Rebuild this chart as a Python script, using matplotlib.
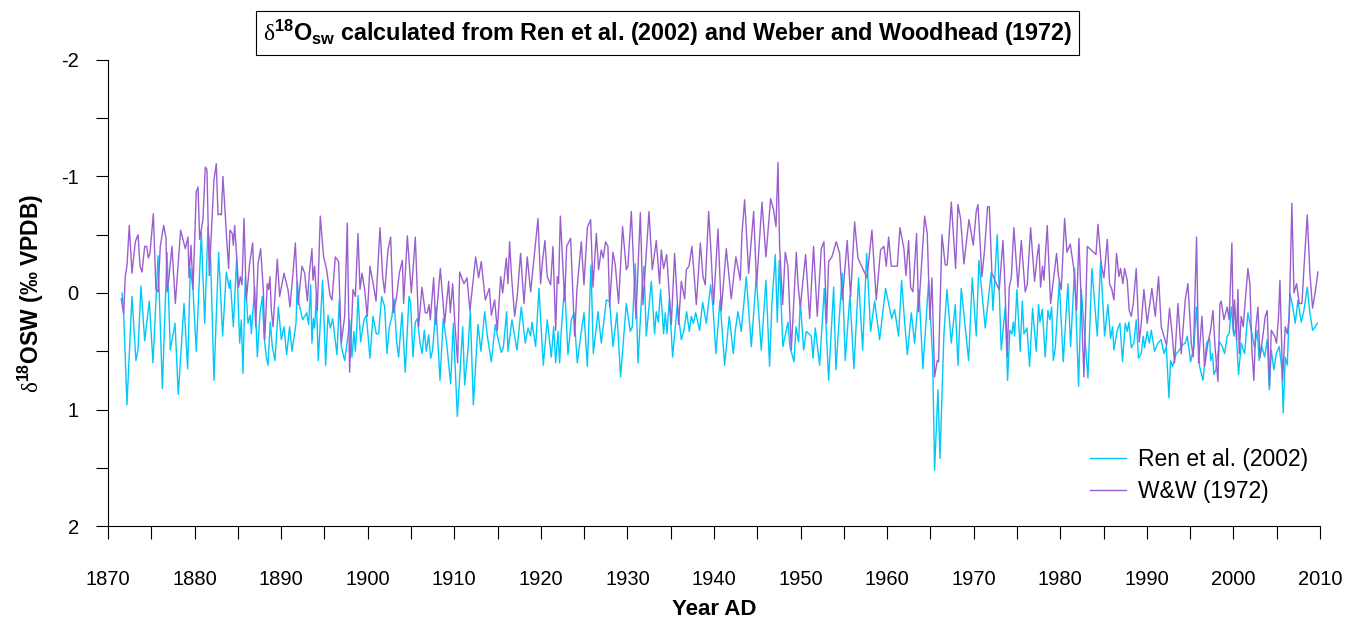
import matplotlib
matplotlib.use("Agg")
import matplotlib.pyplot as plt
from matplotlib.ticker import MultipleLocator

plt.rcParams['font.family'] = ['Liberation Sans', 'DejaVu Sans']
plt.rcParams['mathtext.fontset'] = 'custom'
plt.rcParams['mathtext.rm'] = 'Liberation Serif'
plt.rcParams['mathtext.bf'] = 'Liberation Sans:bold'
plt.rcParams['mathtext.sf'] = 'Liberation Sans'
plt.rcParams['axes.unicode_minus'] = False

# d18O seawater, Ren et al. (2002) calibration
ren_year = [
    1871.62, 1871.81, 1872.19, 1872.77, 1873.23, 1873.47, 1873.81, 1874.24, 1874.77, 1875.20, 1875.78, 1876.28,
    1876.82, 1877.20, 1877.74, 1878.12, 1878.78, 1879.20, 1879.51, 1879.82, 1880.20, 1880.78, 1881.17, 1881.55,
    1881.86, 1882.24, 1882.78, 1883.24, 1883.67, 1884.01, 1884.13, 1884.48, 1884.86, 1885.21, 1885.40, 1885.59,
    1885.86, 1886.17, 1886.44, 1886.56, 1886.71, 1886.94, 1887.25, 1887.56, 1887.83, 1888.02, 1888.29, 1888.48,
    1888.75, 1888.98, 1889.29, 1889.68, 1890.02, 1890.33, 1890.64, 1890.98, 1891.25, 1891.72, 1891.87, 1892.06,
    1892.49, 1892.95, 1893.18,
    1893.41, 1893.56, 1893.72, 1893.87, 1894.06, 1894.29, 1894.79, 1895.14, 1895.41, 1895.68, 1895.95, 1896.45,
    1896.72, 1896.95, 1897.34, 1897.72, 1897.91, 1898.18, 1898.41, 1898.57, 1898.72, 1898.88, 1899.18, 1899.57,
    1899.84, 1900.26, 1900.61, 1900.99, 1901.26, 1901.61, 1901.96, 1902.23, 1902.50, 1902.80, 1903.04, 1903.34,
    1903.57, 1903.96, 1904.34, 1904.77,
    1904.96, 1905.23, 1905.50, 1905.73, 1906.04, 1906.27, 1906.54, 1906.77, 1907.04, 1907.27, 1907.50, 1907.88,
    1908.35, 1908.73, 1909.12, 1909.58, 1909.89, 1910.35, 1910.97, 1911.20, 1911.58, 1911.85, 1912.20, 1912.74,
    1913.08, 1913.51, 1913.82, 1914.28, 1914.74, 1915.05, 1915.43, 1915.66, 1916.05,
    1916.20, 1916.66, 1917.24, 1917.74, 1918.20, 1918.51, 1918.82, 1918.97, 1919.40, 1919.78, 1920.28, 1920.74,
    1921.21, 1921.48, 1921.71, 1921.98, 1922.17, 1922.36, 1922.75, 1923.13, 1923.52, 1923.82, 1924.21, 1924.60,
    1924.98, 1925.37, 1925.79, 1926.06, 1926.60, 1926.98, 1927.56,
    1927.94, 1928.33, 1928.79, 1929.21, 1929.87, 1930.33, 1930.56, 1930.91, 1931.22, 1931.72, 1931.91, 1932.18,
    1932.76, 1933.14, 1933.33, 1933.57, 1933.83, 1934.18, 1934.37, 1934.57, 1934.84, 1935.22, 1935.76, 1936.22,
    1936.53, 1936.84, 1937.15, 1937.38, 1937.61, 1937.88, 1938.34, 1938.69, 1939.11,
    1939.61, 1939.88, 1940.22, 1940.69, 1941.23, 1941.76, 1942.23, 1942.46, 1942.77, 1943.15, 1943.73, 1944.31,
    1944.88, 1945.46, 1946.00, 1946.42, 1946.69, 1947.08, 1947.31, 1947.54, 1947.96, 1948.54, 1948.77, 1949.24,
    1949.47, 1949.77, 1949.97, 1950.35, 1950.66,
    1951.24, 1951.43, 1951.70, 1952.20, 1952.74, 1953.24, 1953.82, 1954.08, 1954.43, 1954.82, 1955.16, 1955.70,
    1956.16, 1956.70, 1957.17, 1957.63, 1958.09, 1958.55, 1959.13, 1959.82, 1960.52, 1960.86, 1961.32, 1961.67,
    1962.02, 1962.33,
    1962.79, 1963.17, 1963.67, 1964.13, 1964.79, 1965.25, 1965.48, 1965.87, 1966.10, 1966.56, 1966.91, 1967.41,
    1967.87, 1968.18, 1968.56, 1969.41, 1969.83, 1970.29, 1970.60, 1971.33, 1972.03, 1972.22, 1972.72, 1973.18,
    1973.64, 1973.91,
    1974.18, 1974.41, 1974.57, 1974.72, 1974.99, 1975.37, 1975.61, 1975.80, 1976.15, 1976.45, 1976.80, 1977.22,
    1977.49, 1977.65, 1977.92, 1978.26, 1978.57, 1978.80, 1979.00, 1979.19, 1979.42, 1979.88, 1980.34, 1980.88,
    1981.19, 1981.65, 1982.11, 1982.42, 1982.81, 1983.19, 1983.65, 1984.27, 1984.66, 1985.12, 1985.50,
    1985.81, 1986.04, 1986.19, 1986.58, 1986.89, 1987.19, 1987.50, 1987.73, 1987.93, 1988.20, 1988.50, 1988.77,
    1989.04, 1989.35, 1989.58, 1989.74, 1990.04, 1990.28, 1990.51, 1990.89, 1991.28, 1991.66, 1991.97, 1992.24,
    1992.55, 1992.74, 1992.97, 1993.39, 1993.66, 1994.05, 1994.43, 1994.67, 1995.05, 1995.44, 1995.71, 1996.09,
    1996.48, 1996.90, 1997.25,
    1997.36, 1997.59, 1997.74, 1997.97, 1998.36, 1998.67, 1998.98, 1999.28, 1999.51, 1999.75, 2000.05, 2000.28,
    2000.59, 2000.90, 2001.29, 2001.67, 2002.06, 2002.44, 2002.75, 2002.98, 2003.29, 2003.60, 2003.90, 2004.14,
    2004.37, 2004.67, 2004.94, 2005.29, 2005.60, 2005.75, 2005.98, 2006.22, 2006.52, 2006.87, 2007.14, 2007.45,
    2007.83, 2008.14, 2008.53, 2008.80, 2009.14, 2009.37, 2009.68,
]
ren_d18o = [
    0.00, 0.17, 0.96, 0.03, 0.58, 0.49, -0.06, 0.41, 0.07, 0.60, -0.32, 0.82,
    -0.35, 0.49, 0.26, 0.87, 0.09, 0.65, -0.21, -0.03, 0.50, -0.52, 0.26, -0.57,
    -0.28, 0.75, -0.35, 0.37, -0.18, -0.04, -0.11, 0.29, -0.30, 0.43, 0.23, 0.69,
    -0.13, 0.26, 0.19, 0.35, 0.19, -0.05, 0.55, 0.17, 0.03, 0.37, 0.55, 0.62,
    0.25, 0.46, 0.58, 0.12, 0.40, 0.29, 0.53, 0.29, 0.50, 0.26, -0.10, 0.09,
    0.23, 0.17, 0.27,
    -0.07, 0.43, 0.22, 0.30, 0.03, 0.58, -0.11, 0.62, 0.19, 0.30, 0.22, 0.53,
    0.06, 0.46, 0.58, 0.37, 0.23, 0.55, 0.33, 0.50, 0.33, 0.02, 0.42, 0.23,
    0.19, 0.56, 0.20, 0.35, 0.35, 0.03, 0.12, 0.52, 0.29, 0.20, 0.05, 0.42,
    0.55, 0.17, 0.68, 0.03,
    0.09, 0.55, 0.25, 0.22, 0.42, 0.52, 0.32, 0.50, 0.36, 0.56, 0.49, 0.12,
    0.75, 0.22, 0.43, 0.78, 0.26, 1.06, 0.29, 0.79, 0.49, 0.15, 0.96, 0.27,
    0.50, 0.16, 0.37, 0.59, 0.27, 0.39, 0.51, 0.47, 0.16,
    0.50, 0.23, 0.49, 0.12, 0.43, 0.30, 0.37, 0.25, 0.46, -0.04, 0.62, 0.23,
    0.55, 0.29, 0.60, 0.33, 0.60, 0.32, -0.07, 0.53, 0.23, 0.17, 0.60, 0.37,
    0.17, 0.63, -0.24, 0.52, 0.16, 0.43, 0.06,
    0.07, 0.46, 0.17, 0.72, 0.09, 0.33, 0.29, -0.25, 0.60, -0.08, -0.23, 0.37,
    -0.10, 0.35, 0.16, 0.25, -0.03, 0.35, 0.17, 0.35, 0.05, 0.55, 0.10, 0.40,
    0.32, 0.16, 0.33, 0.20, 0.26, 0.17, 0.32, 0.08, 0.26,
    -0.07, 0.12, 0.52, 0.06, 0.62, 0.20, 0.52, 0.32, 0.16, 0.33, -0.14, 0.46,
    -0.14, 0.49, -0.11, 0.63, 0.09, -0.33, 0.25, -0.28, 0.46, 0.25, 0.46, 0.59,
    0.29, 0.42, 0.07, 0.49, 0.33,
    0.37, 0.56, 0.30, 0.62, -0.04, 0.75, -0.05, 0.66, 0.26, -0.17, 0.58, 0.02,
    0.65, -0.13, 0.49, -0.34, 0.33, 0.07, 0.40, -0.04, 0.22, 0.14, 0.37, -0.11,
    0.25, 0.53,
    0.17, 0.43, -0.03, 0.65, -0.10, 0.55, 1.52, 0.83, 1.42, 0.35, -0.03, 0.43,
    0.10, 0.62, -0.04, 0.58, -0.13, 0.37, -0.28, 0.30, -0.18, 0.15, -0.50, 0.49,
    0.12, 0.75,
    0.32, 0.35, 0.25, 0.37, -0.03, 0.50, 0.07, 0.35, 0.30, 0.63, 0.13, 0.50,
    0.10, 0.25, 0.14, 0.55, 0.15, 0.23, 0.12, 0.58, 0.47, -0.10, 0.59, -0.08,
    0.46, -0.21, 0.80, -0.03, 0.35, 0.73, -0.21, 0.37, -0.27, 0.37, 0.10,
    0.39, 0.29, 0.49, 0.32, 0.26, 0.59, 0.26, 0.33, 0.25, 0.47, 0.43, 0.23,
    0.56, 0.52, 0.37, 0.47, 0.33, 0.43, 0.32, 0.50, 0.43, 0.40, 0.52, 0.46,
    0.90, 0.58, 0.63, 0.52, 0.50, 0.45, 0.43, 0.37, 0.59, 0.46, 0.12, 0.63,
    0.75, 0.43, 0.39,
    0.58, 0.52, 0.70, 0.66, 0.42, 0.45, 0.52, 0.37, 0.35, 0.12, 0.37, 0.29,
    0.70, 0.43, 0.52, 0.17, 0.32, 0.47, 0.32, 0.58, 0.46, 0.55, 0.40, 0.83,
    0.49, 0.66, 0.52, 0.46, 0.66, 1.03, 0.55, 0.62, 0.00, 0.13, 0.26, 0.06,
    0.25, 0.15, -0.05, 0.15, 0.32, 0.30, 0.26,
]

# d18O seawater, Weber and Woodhead (1972) calibration
ww_year = [
    1871.54, 1871.81, 1872.00, 1872.19, 1872.46, 1872.77, 1873.16, 1873.47, 1873.70, 1873.93, 1874.24, 1874.47,
    1874.66, 1874.85, 1875.24, 1875.54, 1875.78, 1876.04, 1876.43, 1876.70, 1876.82, 1877.05, 1877.39, 1877.78,
    1878.39, 1878.93, 1879.24, 1879.36, 1879.59, 1879.82, 1880.20, 1880.40, 1880.59, 1880.97, 1881.24, 1881.43,
    1881.70,
    1882.24, 1882.51, 1882.71, 1882.94, 1883.09, 1883.28, 1883.55, 1883.74, 1883.94, 1884.09, 1884.36, 1884.48,
    1884.63, 1884.90, 1885.09, 1885.29, 1885.48, 1885.71, 1885.98, 1886.36, 1886.71, 1887.06, 1887.33, 1887.63,
    1887.94, 1888.10, 1888.40, 1888.56, 1888.71, 1888.87, 1889.06, 1889.56, 1889.83, 1890.33, 1890.79, 1891.02,
    1891.37, 1891.64, 1891.95, 1892.41, 1892.72, 1893.03, 1893.26,
    1893.56, 1893.68, 1893.87, 1894.18, 1894.52, 1894.91, 1895.26, 1895.64, 1895.87, 1896.26, 1896.64, 1896.95,
    1897.34, 1897.64, 1897.91, 1898.30, 1898.57, 1898.88, 1899.11, 1899.34, 1899.65, 1899.95, 1900.26, 1900.65,
    1900.96, 1901.42, 1901.73, 1901.96, 1902.34, 1902.65, 1902.96, 1903.34, 1903.65, 1904.00, 1904.15, 1904.58,
    1905.04, 1905.50, 1905.88, 1906.27, 1906.65, 1906.88, 1907.08, 1907.23, 1907.62, 1907.85, 1908.39, 1908.89,
    1909.35, 1909.54, 1909.81, 1910.04, 1910.39, 1910.62, 1911.12, 1911.47, 1911.81, 1912.47, 1912.81, 1913.12,
    1913.58, 1914.05, 1914.28, 1914.66, 1914.97, 1915.36, 1915.59, 1916.01, 1916.20,
    1916.39, 1916.59, 1916.97, 1917.28, 1917.66, 1918.05, 1918.43, 1918.82, 1919.05, 1919.67, 1919.97, 1920.20,
    1920.47, 1920.74, 1921.13, 1921.40, 1921.71, 1921.90, 1922.05, 1922.25, 1922.75, 1922.98, 1923.44, 1923.90,
    1924.17, 1924.67, 1924.98, 1925.37, 1925.75, 1926.02, 1926.41, 1926.67, 1926.98, 1927.21, 1927.48, 1927.75,
    1927.94, 1928.33, 1928.60, 1928.98, 1929.44, 1929.87, 1930.06, 1930.45, 1930.98, 1931.49, 1931.79, 1932.49,
    1932.87, 1933.33, 1933.72, 1933.91, 1934.18, 1934.53, 1935.07, 1935.45, 1935.91, 1936.22, 1936.61, 1936.80,
    1937.11, 1937.45, 1937.65, 1937.96, 1938.42, 1938.73, 1938.99, 1939.38,
    1939.61, 1939.95, 1940.46, 1940.84, 1941.42, 1941.99, 1942.53, 1943.04, 1943.23, 1943.54, 1944.00, 1944.58,
    1944.92, 1945.54, 1946.00, 1946.54, 1946.89, 1947.16, 1947.39, 1947.58, 1947.93, 1948.23, 1948.54, 1948.93,
    1949.51, 1949.70, 1949.97, 1950.58, 1951.05,
    1951.50, 1951.93, 1952.39, 1952.70, 1953.01, 1953.24, 1953.62, 1954.12, 1954.51, 1954.82, 1955.39, 1955.78,
    1956.24, 1956.63, 1957.67, 1958.24, 1958.74, 1959.24, 1959.63, 1959.90, 1960.17, 1960.48, 1961.17, 1961.48,
    1961.94, 1962.17, 1962.48,
    1962.71, 1962.98, 1963.40, 1963.63, 1964.33, 1964.63, 1964.94, 1965.17, 1965.48, 1965.79, 1965.94, 1966.33,
    1966.71, 1966.94, 1967.41, 1967.91, 1968.18, 1968.48, 1968.87, 1969.45, 1969.95, 1970.29, 1970.49, 1970.95,
    1971.26, 1971.60, 1971.80, 1972.10, 1972.61, 1972.95, 1973.38, 1973.57, 1973.88,
    1974.10, 1974.34, 1974.64, 1975.11, 1975.49, 1975.72, 1975.95, 1976.18, 1976.57, 1977.03, 1977.34, 1977.53,
    1977.72, 1977.95, 1978.11, 1978.49, 1978.88, 1979.57, 1979.80, 1980.11, 1980.50, 1980.77, 1981.15, 1981.58,
    1981.88, 1982.15, 1982.73, 1983.12, 1984.12, 1984.35, 1984.73, 1985.04, 1985.43,
    1985.69, 1985.96, 1986.19, 1986.50, 1986.77, 1986.96, 1987.23, 1987.43, 1987.73, 1987.96, 1988.20, 1988.43,
    1988.77, 1989.12, 1989.35, 1989.66, 1990.04, 1990.58, 1990.97, 1991.35, 1991.66, 1991.97, 1992.28, 1992.62,
    1992.89, 1993.20, 1993.59, 1993.97, 1994.43, 1994.74, 1995.13, 1995.36, 1995.74, 1995.97, 1996.36, 1996.67,
    1997.05,
    1997.36, 1997.63, 1997.90, 1998.21, 1998.44, 1998.59, 1998.90, 1999.28, 1999.51, 1999.82, 1999.98, 2000.13,
    2000.36, 2000.52, 2000.67, 2000.90, 2001.13, 2001.36, 2001.67, 2001.90, 2002.13, 2002.36, 2002.56, 2002.83,
    2003.06, 2003.40, 2003.67, 2003.90, 2004.17, 2004.37, 2004.75, 2004.98, 2005.21, 2005.37, 2005.68, 2005.98,
    2006.22, 2006.45, 2006.75, 2006.99, 2007.29, 2007.60, 2007.91, 2008.22, 2008.53, 2008.83, 2009.14, 2009.45,
    2009.76,
]
ww_d18o = [
    0.05, 0.18, -0.15, -0.23, -0.58, -0.17, -0.44, -0.50, -0.23, -0.18, -0.40, -0.40,
    -0.30, -0.34, -0.68, -0.03, -0.01, -0.40, -0.58, -0.47, -0.01, -0.14, -0.40, 0.09,
    -0.54, -0.38, -0.48, -0.13, -0.41, -0.03, -0.87, -0.91, -0.46, -0.63, -1.08, -1.06,
    -0.15,
    -0.97, -1.11, -0.67, -0.68, -0.67, -1.00, -0.66, -0.43, -0.21, -0.54, -0.51, -0.41,
    -0.58, -0.27, -0.05, -0.14, -0.07, -0.64, 0.06, -0.25, -0.43, 0.29, -0.25, -0.38,
    -0.03, 0.40, -0.08, -0.03, -0.14, 0.15, 0.29, -0.29, 0.03, -0.17, -0.03, 0.12,
    -0.17, -0.43, 0.10, -0.23, -0.17, 0.07, -0.17,
    -0.38, -0.11, -0.23, 0.15, -0.66, -0.31, -0.20, 0.02, 0.06, -0.31, -0.27, 0.43,
    0.20, -0.60, 0.68, -0.03, 0.03, -0.51, -0.03, -0.17, -0.03, 0.20, -0.23, -0.07,
    0.07, -0.56, -0.14, 0.00, -0.37, -0.48, 0.17, 0.03, -0.17, -0.28, 0.09, -0.49,
    0.00, -0.48, 0.29, -0.05, 0.17, 0.17, 0.10, 0.23, -0.13, 0.27, -0.21, 0.26,
    -0.10, 0.17, -0.08, 0.23, 0.60, -0.18, -0.08, -0.13, 0.15, -0.31, -0.13, -0.27,
    0.06, -0.04, 0.19, 0.06, 0.32, -0.14, 0.00, -0.30, -0.08,
    -0.44, -0.17, 0.20, 0.02, -0.34, 0.09, -0.31, -0.01, -0.18, -0.64, -0.08, -0.28,
    -0.45, -0.14, -0.07, -0.40, 0.32, -0.14, -0.08, -0.66, 0.07, -0.40, -0.47, 0.37,
    -0.03, -0.44, -0.07, -0.56, -0.63, -0.05, -0.51, -0.20, -0.37, -0.30, -0.44, -0.40,
    0.12, -0.35, -0.24, 0.09, -0.57, -0.20, -0.23, -0.70, 0.22, -0.69, 0.10, -0.70,
    -0.20, -0.45, -0.08, -0.37, -0.21, -0.33, 0.27, -0.34, 0.27, -0.10, 0.05, -0.20,
    -0.23, -0.40, -0.21, 0.10, -0.43, -0.14, -0.07, -0.70,
    -0.41, 0.10, -0.55, 0.15, -0.38, 0.05, -0.31, -0.11, -0.51, -0.80, -0.17, -0.70,
    -0.07, -0.78, -0.31, -0.81, -0.71, -0.57, -1.12, -0.40, 0.10, -0.35, -0.23, 0.49,
    -0.35, -0.08, 0.12, -0.33, 0.22,
    -0.40, 0.20, -0.38, -0.44, 0.26, -0.27, -0.31, -0.44, -0.34, 0.06, -0.45, 0.03,
    -0.61, -0.30, -0.13, -0.54, 0.06, -0.37, -0.40, -0.23, -0.48, -0.23, -0.23, -0.56,
    -0.38, -0.15, -0.45,
    -0.05, -0.01, -0.51, 0.16, -0.66, -0.51, 0.23, -0.13, 0.72, 0.58, 0.59, -0.50,
    -0.24, -0.24, -0.78, -0.21, -0.76, -0.64, -0.25, -0.63, -0.41, -0.70, -0.76, -0.14,
    -0.38, -0.74, -0.74, -0.17, -0.08, -0.03, -0.45, -0.13, 0.55,
    -0.05, -0.13, -0.56, -0.05, -0.45, -0.23, -0.01, -0.07, -0.56, -0.10, -0.32, -0.42,
    -0.05, -0.23, -0.11, -0.58, 0.09, -0.34, -0.14, -0.03, -0.64, -0.35, -0.42, -0.20,
    0.15, -0.47, 0.72, -0.40, -0.33, -0.59, -0.25, -0.13, -0.46,
    -0.08, -0.03, 0.06, -0.34, -0.14, -0.21, -0.08, -0.21, -0.11, 0.15, 0.20, 0.09,
    -0.21, 0.42, 0.26, -0.03, 0.26, -0.04, 0.20, -0.14, 0.29, 0.37, 0.45, 0.13,
    0.33, 0.60, 0.09, 0.52, 0.06, -0.08, 0.43, 0.55, -0.48, 0.60, 0.20, 0.63,
    0.43,
    0.32, 0.15, 0.49, 0.76, 0.09, 0.07, 0.23, 0.12, 0.23, -0.43, 0.33, 0.06,
    0.40, -0.03, 0.52, 0.20, 0.29, 0.07, -0.21, -0.08, 0.49, 0.75, 0.32, 0.12,
    0.55, 0.37, 0.20, 0.15, 0.80, 0.32, 0.37, 0.43, 0.20, -0.11, 0.75, 0.29,
    0.35, 0.20, -0.77, 0.00, -0.08, 0.09, 0.09, -0.31, -0.67, -0.17, 0.13, -0.01,
    -0.18,
]

fig = plt.figure(figsize=(13.6, 6.26), dpi=100)
ax = fig.add_axes([0.0794, 0.1597, 0.8912, 0.7445])

ax.plot(ren_year, ren_d18o, color='#00C8F8', lw=1.0, label='Ren et al. (2002)')
ax.plot(ww_year, ww_d18o, color='#9A5FCF', lw=1.0, label='W&W (1972)')

ax.set_xlim(1870, 2010)
ax.set_ylim(2, -2)
ax.xaxis.set_major_locator(MultipleLocator(10))
ax.xaxis.set_minor_locator(MultipleLocator(5))
ax.yaxis.set_major_locator(MultipleLocator(1))
ax.yaxis.set_minor_locator(MultipleLocator(0.5))
ax.tick_params(which='both', direction='out', length=9, width=0.8, labelsize=14.5)
ax.tick_params(axis='x', which='major', pad=23)
ax.tick_params(axis='y', which='major', pad=12)

for s in ['top', 'right']:
    ax.spines[s].set_visible(False)

ax.set_xlabel('Year AD', fontsize=16, fontweight='bold', labelpad=7)
ax.set_ylabel(r'$\mathrm{\delta}^{\mathbf{18}}$OSW (‰ VPDB)', fontsize=16.5, fontweight='bold', labelpad=11)

fig.text(0.491, 0.947,
         r'$\mathrm{\delta}^{\mathbf{18}}\mathbf{O_{sw}}$ calculated from Ren et al. (2002) and Weber and Woodhead (1972)',
         ha='center', va='center', fontsize=16.8, fontweight='bold',
         bbox=dict(boxstyle='square,pad=0.3', facecolor='white', edgecolor='black', lw=0.8))

ax.legend(loc='upper left', bbox_to_anchor=(0.793, 0.212), frameon=False, fontsize=16.5,
          handlelength=1.6, handletextpad=0.5, labelspacing=0.4)

fig.savefig('out.png', dpi=100)
